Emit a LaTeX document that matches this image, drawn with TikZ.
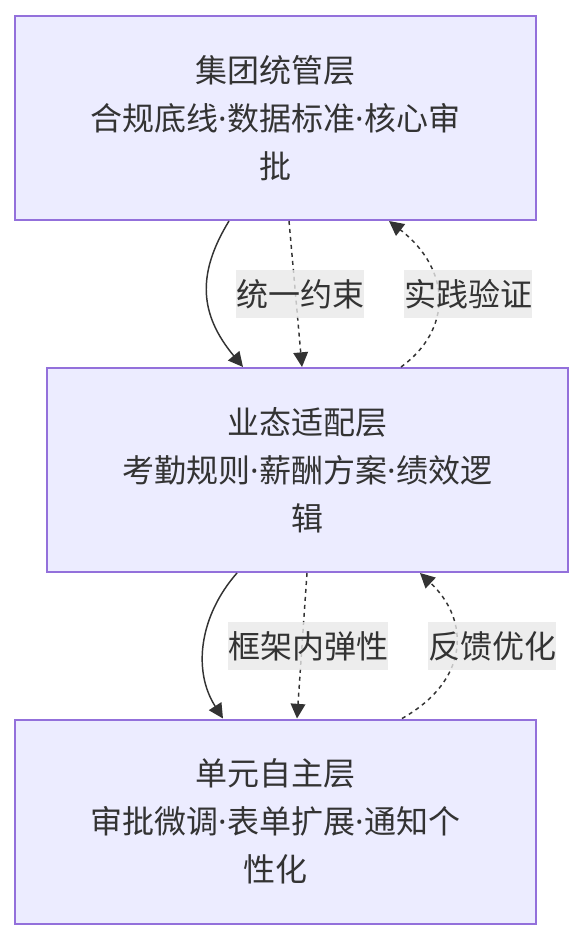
\documentclass[tikz,border=0pt]{standalone}
\usepackage{fontspec}
\newfontfamily\cjk{Noto Sans CJK SC}
\newfontfamily\latn{Noto Sans}
\newcommand{\mdot}{{\latn ·}}
\usetikzlibrary{arrows.meta}

\definecolor{layerfill}{HTML}{ECECFF}
\definecolor{layerline}{HTML}{9370DB}
\definecolor{inkgray}{HTML}{333333}
\definecolor{labelbg}{HTML}{E8E8E8}

\tikzset{
  layer/.style={draw=layerline, line width=1.5pt, fill=layerfill, text=inkgray,
    minimum width=390.75pt, minimum height=153pt, align=center, inner sep=0pt,
    font=\cjk\fontsize{24}{36}\selectfont},
  flowtip/.style={-{Triangle[length=11pt,width=11pt]}},
  hardflow/.style={flowtip, draw=inkgray, line width=1.1pt},
  softflow/.style={flowtip, draw=inkgray, line width=1.1pt, dash pattern=on 3pt off 3pt},
  edgetag/.style={fill=labelbg, fill opacity=0.8, text opacity=1, text=inkgray,
    inner xsep=0pt, minimum height=36pt,
    font=\cjk\fontsize{24}{28}\selectfont}
}

\begin{document}
\begin{tikzpicture}[x=0.75pt,y=-0.75pt]
        % \draw[help lines, gray!50, very thin] (0,0) grid[step=50] (584,940);
        \useasboundingbox (0,0) rectangle (584,940);

        \node[layer] (group) at (275.5,118)
          {集团统管层\\合规底线\mdot 数据标准\mdot 核心审\\批};
        \node[layer] (business) at (307.5,470)
          {业态适配层\\考勤规则\mdot 薪酬方案\mdot 绩效逻\\辑};
        \node[layer] (unit) at (275.5,821.5)
          {单元自主层\\审批微调\mdot 表单扩展\mdot 通知个\\性化};

        % group -> business
        \draw[hardflow] (group.south -| 229,0) .. controls (196,275) and (200,315) .. (business.north -| 243,0);
        \draw[softflow] (group.south -| 289,0) -- (business.north -| 302,0);
        \draw[softflow] (business.north -| 401,0) .. controls (452,330) and (452,270) .. (group.south -| 389,0);

        % business -> unit
        \draw[hardflow] (business.south -| 237,0) .. controls (200,615) and (192,670) .. (unit.north -| 223,0);
        \draw[softflow] (business.south -| 307,0) -- (unit.north -| 297,0);
        \draw[softflow] (unit.north -| 402,0) .. controls (470,680) and (470,620) .. (business.south -| 420,0);

        \node[edgetag] (constrain) at (300,294) {统一约束};
        \node[edgetag] (practice) at (468,294) {实践验证};
        \node[edgetag] (elastic) at (308,646) {框架内弹性};
        \node[edgetag] (feedback) at (492,646) {反馈优化};
      \end{tikzpicture}
\end{document}
